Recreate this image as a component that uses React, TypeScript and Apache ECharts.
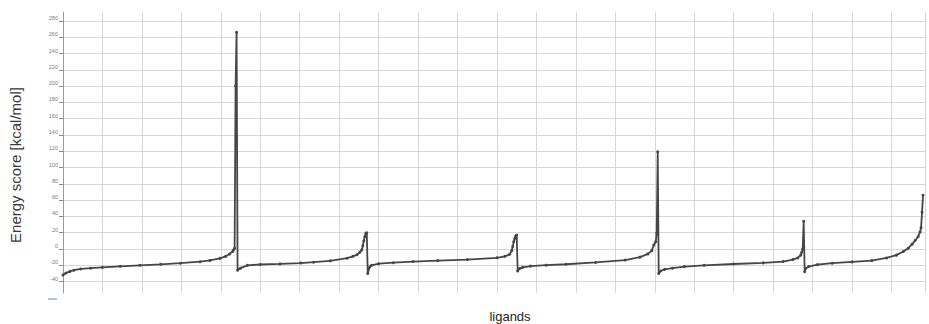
import { useEffect, useRef } from "react";
import * as echarts from "echarts";

// Ligand rank (position in the combined, per-run sorted list) and its docking energy score.
// Six docking runs, each sorted ascending, are laid end to end.
const ligandRank = [
  // run 1
  0, 3, 7, 11, 18, 28, 40, 58, 78, 99, 119, 139, 149, 159, 165, 169, 172, 173, 174, 175, 176,
  // run 2
  177, 180, 187, 200, 220, 241, 254, 271, 288, 294, 298, 301, 303, 304, 305, 306, 307, 308,
  // run 3
  309, 311, 313, 320, 335, 355, 380, 410, 440, 448, 453, 455, 456, 457, 458, 459, 460,
  // run 4
  461, 463, 466, 474, 490, 510, 540, 570, 585, 593, 597, 599, 601, 602, 603,
  // run 5
  604, 606, 610, 618, 630, 650, 680, 710, 730, 740, 745, 748, 749, 750, 751,
  // run 6
  752, 753, 756, 765, 780, 800, 820, 835, 845, 852, 857, 861, 864, 867, 869, 870, 871, 872,
];

const energyScore = [
  // run 1
  -32, -29.5, -27.5, -26, -24.5, -23.5, -22.5, -21.2, -20, -18.8, -17.4, -15.6, -14, -11.5, -9, -6, -3, -1, 1, 200, 266,
  // run 2
  -26, -23.5, -20, -19, -18.3, -17.3, -16.2, -14.5, -11.3, -9, -7, -4, -1, 4, 10, 15, 19, 20,
  // run 3
  -30, -22, -20, -18, -16.8, -15.4, -14.3, -13, -10.8, -9, -6.5, -2, 3, 9, 13, 16, 17,
  // run 4
  -27, -24, -22.5, -21, -19.8, -18.7, -16.5, -13.6, -10, -6, -2, 5, 9, 19.5, 119.5,
  // run 5
  -30, -27, -25, -23.5, -21.6, -20, -18.4, -17, -15.4, -13, -11, -7.5, -4, 0, 34,
  // run 6
  -28, -24, -21.5, -19.2, -17.4, -15.8, -14.2, -11, -7.5, -3, 1, 6, 10.5, 15, 21, 26, 45, 66,
];

const yTickValues = [-40, -20, 0, 20, 40, 60, 80, 100, 120, 140, 160, 180, 200, 220, 240, 260, 280];

const yTitle = "Energy score [kcal/mol]";
const xTitle = "ligands";

const FONT = "'Liberation Sans', Arial, Helvetica, sans-serif";
const GRID_COLOR = "#d6d6d6";
const LINE_COLOR = "#464646";

export default function App() {
  const ref = useRef<HTMLDivElement>(null);

  useEffect(() => {
    if (!ref.current) return;
    const chart = echarts.init(ref.current, null, { renderer: "svg" });
    chart.setOption({
      animation: false,
      backgroundColor: "#ffffff",
      grid: { left: 63, right: 4, top: 12, bottom: 31 },
      xAxis: {
        type: "value",
        min: 0,
        max: 874,
        interval: 40,
        axisLine: { show: false },
        axisTick: { show: false },
        axisLabel: { show: false },
        splitLine: { show: true, lineStyle: { color: GRID_COLOR, width: 1 } },
      },
      yAxis: {
        type: "value",
        min: -54,
        max: 291,
        axisLine: { show: true, lineStyle: { color: "#9a9a9a", width: 1 } },
        axisTick: {
          show: true,
          length: 4,
          customValues: yTickValues,
          lineStyle: { color: "#8a8a8a" },
        },
        axisLabel: {
          customValues: yTickValues,
          fontSize: 5.5,
          fontFamily: FONT,
          color: "#7a7a7a",
          margin: 5,
          verticalAlign: "bottom",
        },
        splitLine: { show: true, lineStyle: { color: GRID_COLOR, width: 1 } },
      },
      series: [
        {
          type: "line",
          data: ligandRank.map((r, i) => [r, energyScore[i]]),
          symbol: "circle",
          symbolSize: 3,
          showSymbol: true,
          silent: true,
          lineStyle: { color: LINE_COLOR, width: 1.8 },
          itemStyle: { color: LINE_COLOR },
        },
      ],
      graphic: [
        {
          type: "text",
          x: 15,
          y: 165,
          rotation: Math.PI / 2,
          style: {
            text: yTitle,
            fontSize: 15,
            fontFamily: FONT,
            fill: "#3a3a3a",
            align: "center",
            verticalAlign: "middle",
          },
        },
        {
          type: "text",
          x: 510,
          y: 316,
          style: {
            text: xTitle,
            fontSize: 13,
            fontFamily: FONT,
            fill: "#1e1e1e",
            align: "center",
            verticalAlign: "middle",
          },
        },
        {
          type: "line",
          shape: { x1: 48, y1: 299, x2: 57, y2: 299 },
          style: { stroke: "#8fb0dd", lineWidth: 1.5 },
        },
      ],
    });
    return () => chart.dispose();
  }, []);

  return (
    <div
      ref={ref}
      style={{ position: "fixed", left: 0, top: 0, width: 929, height: 324, background: "#ffffff" }}
    />
  );
}
